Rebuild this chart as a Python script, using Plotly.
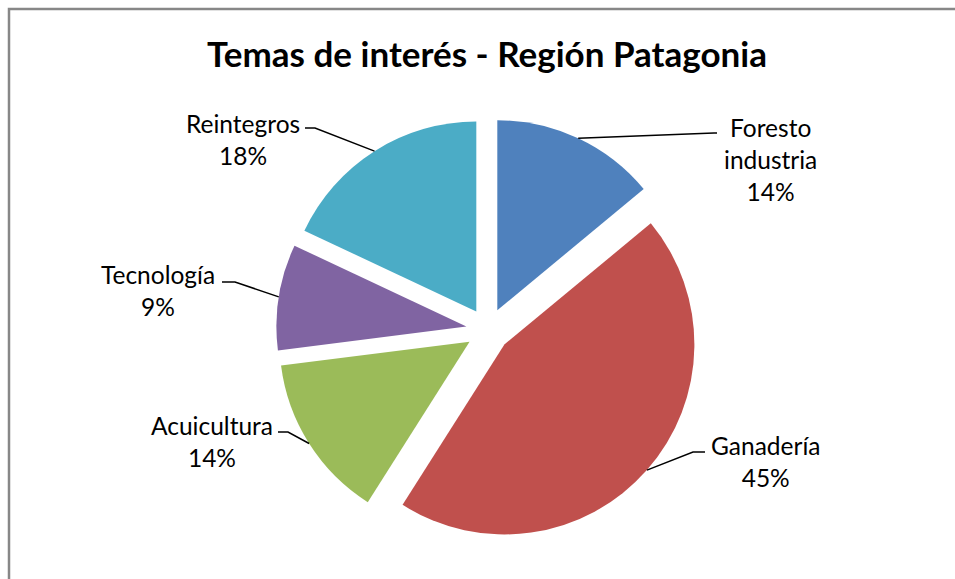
import math
import plotly.graph_objects as go

# ---- data ----
categories = ["Foresto industria", "Ganadería", "Acuicultura", "Tecnología", "Reintegros"]
label_lines = ["Foresto<br>industria", "Ganadería", "Acuicultura", "Tecnología", "Reintegros"]
values = [14, 45, 14, 9, 18]
colors = ["#4F81BD", "#C0504D", "#9BBB59", "#8064A2", "#4BACC6"]
title_text = "Temas de interés - Región Patagonia"

# ---- layout constants (pixels) ----
W, H = 955, 579
CX, CY = 488, 330          # pie centre
R = 190                    # pie radius
PULL = 0.115               # explosion as fraction of radius
FONT = "Lato"
LABEL_SIZE = 24.5

# label centres and leader elbow / end points (pixels)
label_pos = [(770, 160), (765, 461), (212, 441), (158, 290), (243, 139)]
leader_elbow = [(714, 133), (693, 452), (288, 432), (235, 282), (315, 128)]
leader_end = [(717, 133), (705, 452), (278, 432), (222, 282), (305, 128)]


def px(x):
    return x / W


def py(y):
    return 1 - y / H


half = R * (1 + PULL)
fig = go.Figure(go.Pie(
    labels=categories,
    values=values,
    sort=False,
    direction="clockwise",
    rotation=0,
    pull=[PULL] * len(values),
    marker=dict(colors=colors, line=dict(width=0)),
    textinfo="none",
    hoverinfo="label+percent",
    showlegend=False,
    domain=dict(x=[px(CX - half), px(CX + half)], y=[py(CY + half), py(CY - half)]),
))

total = sum(values)
shapes = []
annotations = []
cum = 0
for i, v in enumerate(values):
    mid = (cum + v / 2) / total * 2 * math.pi
    cum += v
    dx, dy = math.sin(mid), -math.cos(mid)
    pcx, pcy = CX + PULL * R * dx, CY + PULL * R * dy
    sx, sy = pcx + R * dx, pcy + R * dy
    ex, ey = leader_elbow[i]
    tx, ty = leader_end[i]
    path = f"M {px(sx)} {py(sy)} L {px(ex)} {py(ey)} L {px(tx)} {py(ty)}"
    shapes.append(dict(type="path", xref="paper", yref="paper", path=path,
                       line=dict(color="black", width=1.5)))
    pct = round(v / total * 100)
    lx, ly = label_pos[i]
    annotations.append(dict(
        x=px(lx), y=py(ly), xref="paper", yref="paper",
        text=f"{label_lines[i]}<br>{pct}%", showarrow=False,
        xanchor="center", yanchor="middle", align="center",
        font=dict(family=FONT, size=LABEL_SIZE, color="black"),
    ))

# chart border
shapes.append(dict(type="rect", xref="paper", yref="paper",
                   x0=px(9), x1=1.05, y0=-0.05, y1=py(9),
                   line=dict(color="#878787", width=2.5), fillcolor="rgba(0,0,0,0)"))

fig.update_layout(
    width=W, height=H,
    margin=dict(l=0, r=0, t=0, b=0),
    paper_bgcolor="white",
    plot_bgcolor="white",
    title=dict(text=f"<b>{title_text}</b>", x=px(487), xanchor="center",
               y=py(55), yanchor="middle", yref="container",
               font=dict(family=FONT, size=35, color="black")),
    shapes=shapes,
    annotations=annotations,
)

fig.write_html(
    "out.html",
    config={"displayModeBar": False},
    post_script="document.body.style.margin='0';document.body.style.overflow='hidden';",
)
